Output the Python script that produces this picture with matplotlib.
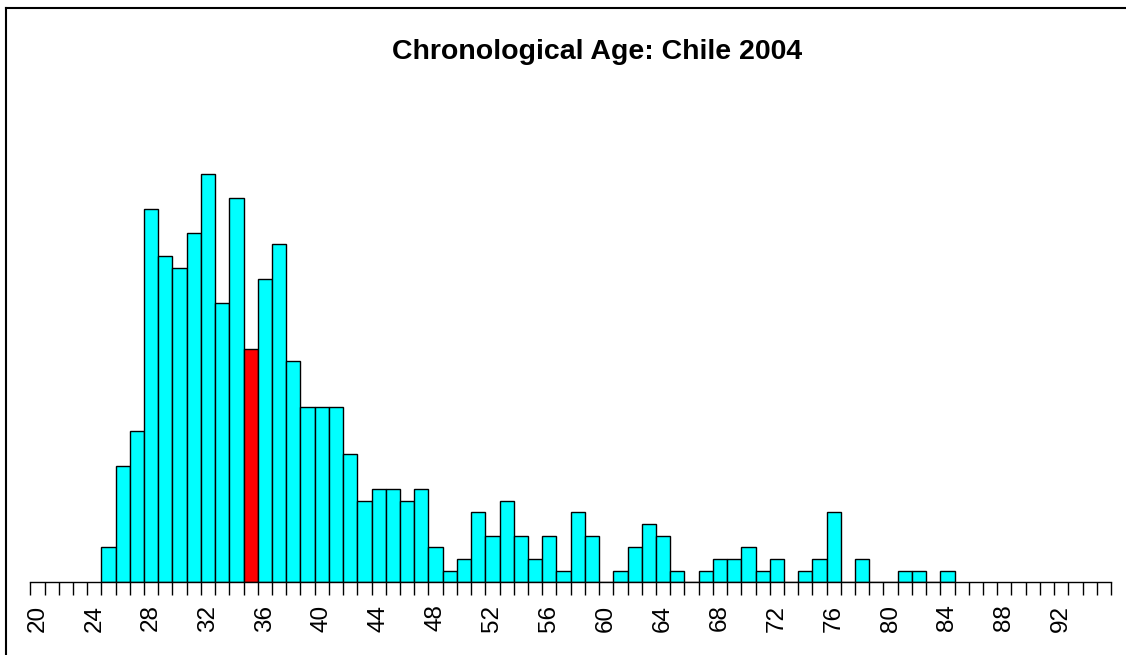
import numpy as np
import matplotlib.pyplot as plt
from matplotlib.lines import Line2D

# age distribution (counts)
ages = list(range(25, 85))
counts = [3, 10, 13, 32, 28, 27, 30, 35, 24, 33,
          20, 26, 29, 19, 15, 15, 15, 11, 7, 8,
          8, 7, 8, 3, 1, 2, 6, 4, 7, 4,
          2, 4, 1, 6, 4, 0, 1, 3, 5, 4,
          1, 0, 1, 2, 2, 3, 1, 2, 0, 1,
          2, 6, 0, 2, 0, 0, 1, 1, 0, 1]
highlight_age = 35
tick_labels = list(range(20, 96, 4))

plt.rcParams['font.family'] = ['Liberation Sans', 'DejaVu Sans']

fig = plt.figure(figsize=(11.26, 6.55), dpi=100)
ax = fig.add_axes([30.3 / 1126, 1 - 582.3 / 655, (1111 - 30.3) / 1126, (582.3 - 116) / 655])

colors = ['#FF0000' if a == highlight_age else '#00FFFF' for a in ages]
ax.bar(ages, counts, width=1.0, color=colors, edgecolor='black', linewidth=1.0)

ax.set_xlim(19.5, 95.5)
ax.set_ylim(0, 40)

for s in ['top', 'right', 'left']:
    ax.spines[s].set_visible(False)
ax.spines['bottom'].set_linewidth(1.0)
ax.set_yticks([])

# tick marks at category boundaries, labels at category centres
ax.set_xticks(np.arange(19.5, 96, 1), minor=True)
ax.set_xticks(tick_labels)
ax.set_xticklabels([str(t) for t in tick_labels], rotation=90, fontsize=17.5, va='top')
ax.tick_params(axis='x', which='major', length=0, pad=16)
ax.tick_params(axis='x', which='minor', length=9, width=1.0, direction='out')

fig.text(0.53, 1 - 52 / 655, 'Chronological Age: Chile 2004', ha='center', va='center',
         fontsize=20.5, fontweight='bold')

# chart border (left and top edges visible)
fig.add_artist(Line2D([6 / 1126, 6 / 1126], [0, 1 - 8 / 655], color='black', linewidth=1.5))
fig.add_artist(Line2D([6 / 1126, 1], [1 - 8 / 655, 1 - 8 / 655], color='black', linewidth=1.5))

fig.savefig('out.png', dpi=100)
